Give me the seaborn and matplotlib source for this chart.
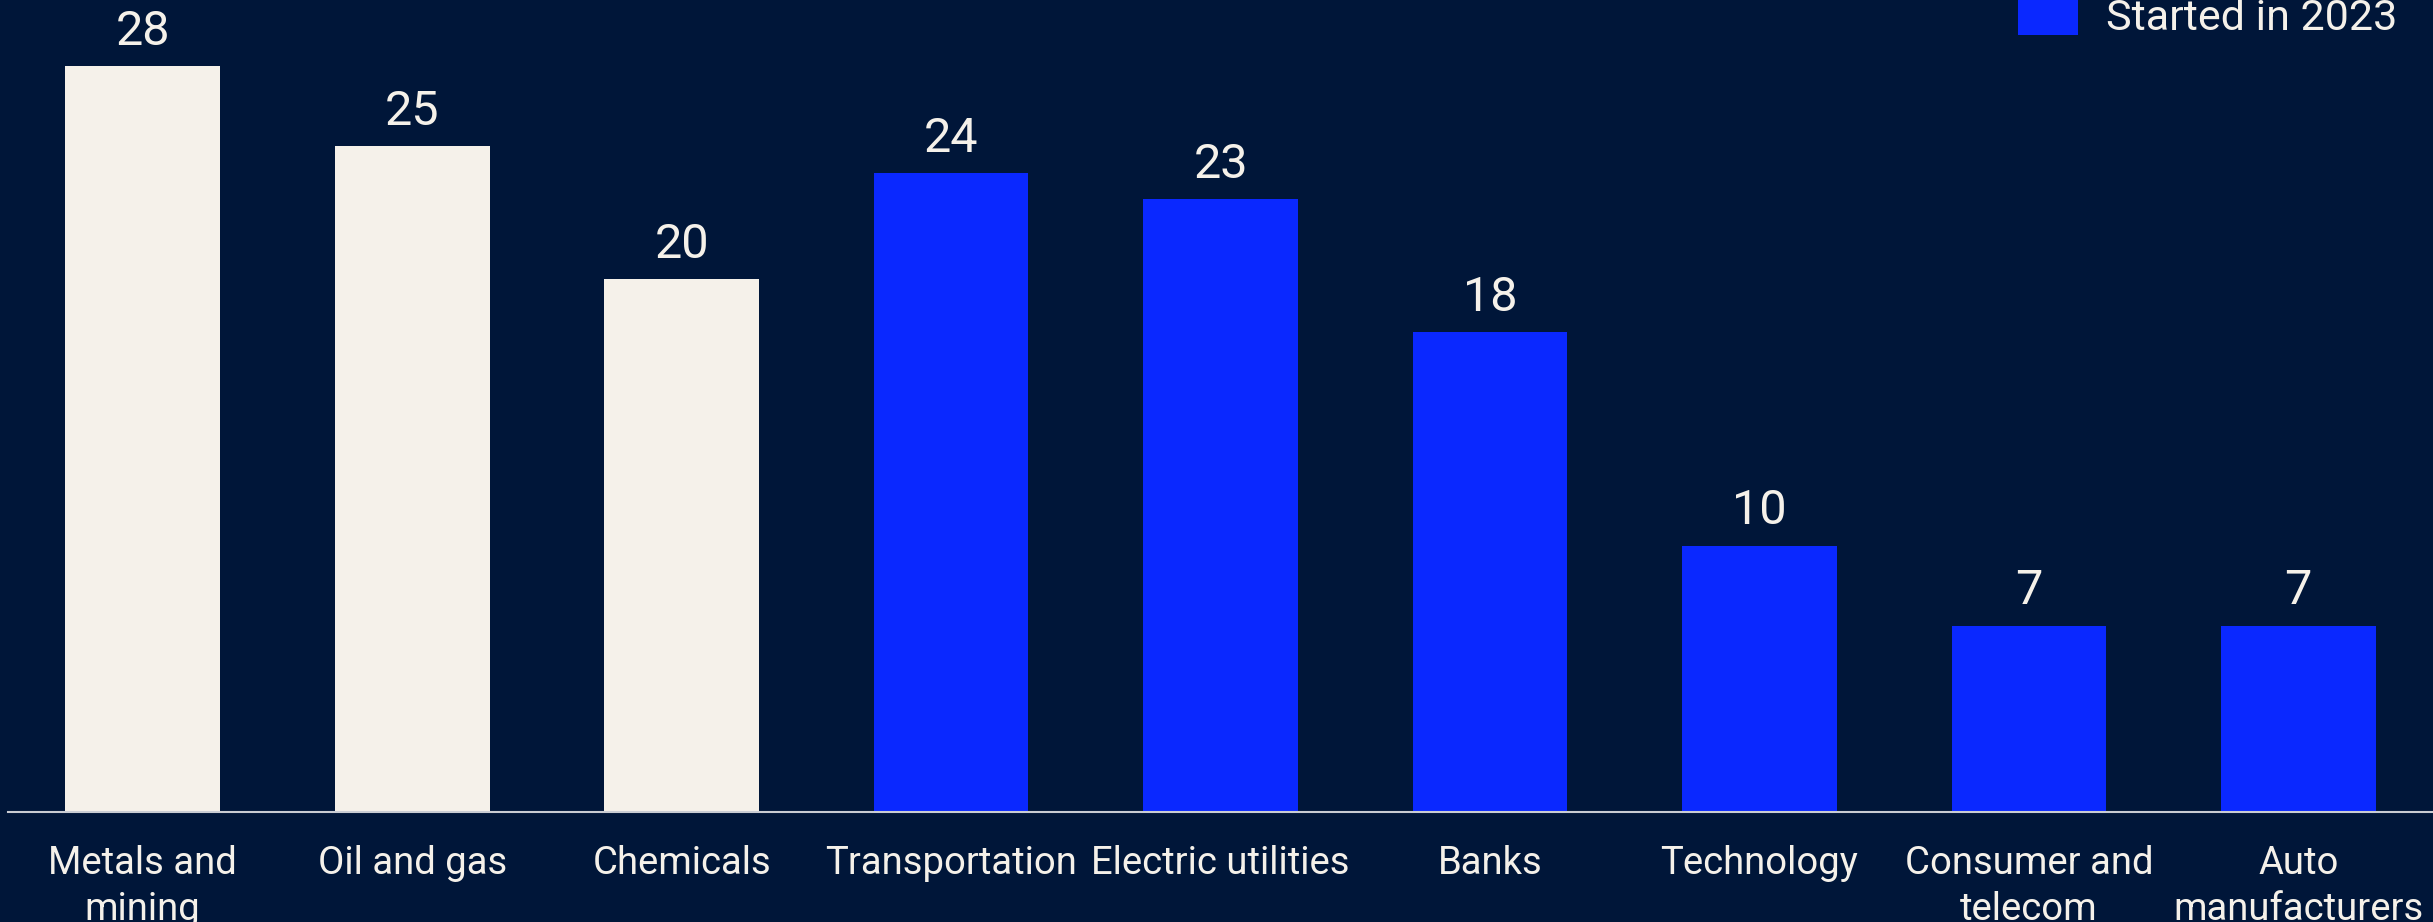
import matplotlib
matplotlib.use("Agg")
import matplotlib.pyplot as plt
from matplotlib.patches import Patch
import seaborn as sns
import pandas as pd

categories = ["Metals and\nmining", "Oil and gas", "Chemicals", "Transportation",
              "Electric utilities", "Banks", "Technology", "Consumer and\ntelecom",
              "Auto\nmanufacturers"]
values = [28, 25, 20, 24, 23, 18, 10, 7, 7]
groups = ["Started before 2023"] * 3 + ["Started in 2023"] * 6
group_names = ["Started before 2023", "Started in 2023"]

BG = "#001639"
CREAM = "#F5F1EA"
BLUE = "#0A28FF"
palette = {group_names[0]: CREAM, group_names[1]: BLUE}

sns.set_theme(style="white")
plt.rcParams["font.family"] = ["Roboto", "DejaVu Sans"]

df = pd.DataFrame({"category": categories, "value": values, "group": groups})

fig = plt.figure(figsize=(24.33, 9.22), dpi=100, facecolor=BG)
ax = fig.add_axes([0.0033, 0.1193, 0.9967, 0.8807], facecolor=BG)

sns.barplot(data=df, x="category", y="value", hue="group", palette=palette,
            dodge=False, width=0.574, order=categories, hue_order=group_names,
            legend=False, ax=ax, saturation=1, linewidth=0, edgecolor="none")

ax.set_ylim(0, 30.48)
ax.set_xlim(-0.5, 8.5)
for c in ax.containers:
    ax.bar_label(c, fmt="%d", padding=8, color=CREAM, fontsize=35)

for s in ["top", "right", "left"]:
    ax.spines[s].set_visible(False)
ax.spines["bottom"].set_color("#C9CCD3")
ax.spines["bottom"].set_linewidth(1.5)
ax.set_yticks([])
ax.set_xlabel("")
ax.set_ylabel("")
ax.tick_params(axis="x", length=0, pad=24, labelsize=27.5, labelcolor=CREAM)
for t in ax.get_xticklabels():
    t.set_linespacing(1.3)

handles = [Patch(facecolor=palette[g], edgecolor="none") for g in group_names]
fig.legend(handles, group_names, loc="lower right", bbox_to_anchor=(1.031, 0.934),
           frameon=False, fontsize=31, labelcolor=CREAM, handlelength=1.4,
           handleheight=1.0, handletextpad=0.65, borderpad=0, labelspacing=0.6)

fig.savefig("out.png", dpi=100, facecolor=BG)
